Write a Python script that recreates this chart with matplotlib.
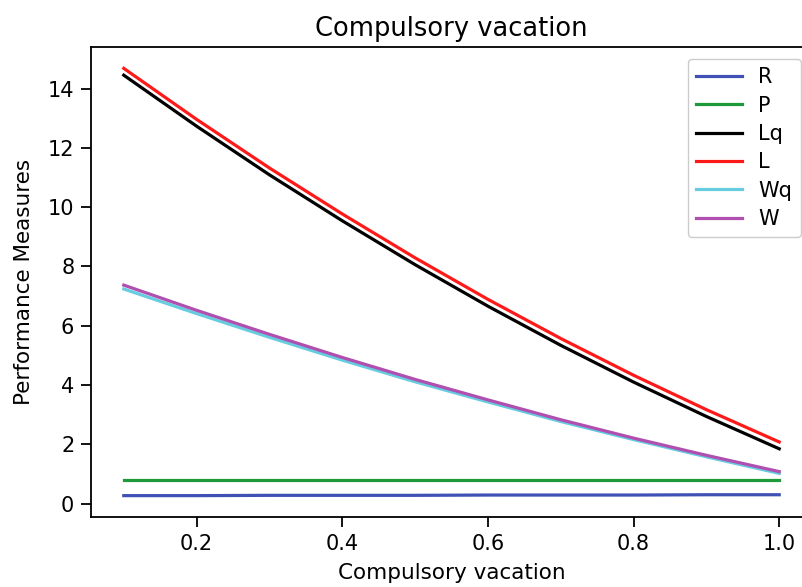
import matplotlib
matplotlib.use("Agg")
import matplotlib.pyplot as plt

x = [0.1, 0.2, 0.3, 0.4, 0.5, 0.6, 0.7, 0.8, 0.9, 1.0]
R = [0.27, 0.27, 0.28, 0.28, 0.28, 0.29, 0.29, 0.29, 0.30, 0.30]
P = [0.79, 0.79, 0.79, 0.79, 0.79, 0.79, 0.79, 0.79, 0.79, 0.79]
Lq = [14.45, 12.73, 11.09, 9.54, 8.06, 6.66, 5.34, 4.10, 2.94, 1.85]
L = [14.68, 12.96, 11.32, 9.77, 8.29, 6.89, 5.57, 4.33, 3.17, 2.08]
Wq = [7.24, 6.41, 5.61, 4.84, 4.11, 3.43, 2.77, 2.16, 1.58, 1.02]
W = [7.37, 6.52, 5.71, 4.93, 4.19, 3.50, 2.83, 2.21, 1.63, 1.08]

series = [("R", R, "#3f51b5"), ("P", P, "#1e9a3c"), ("Lq", Lq, "#000000"),
          ("L", L, "#ff1a1a"), ("Wq", Wq, "#66cce0"), ("W", W, "#b04fb0")]

W_PX, H_PX = 803, 587
fig = plt.figure(figsize=(W_PX / 100, H_PX / 100), dpi=100)
ax = fig.add_axes([91 / W_PX, 1 - 517 / H_PX, (812 - 91) / W_PX, (517 - 47) / H_PX])

for name, vals, col in series:
    ax.plot(x, vals, color=col, lw=2.3, label=name)

ax.set_title("Compulsory vacation", fontsize=18.5, pad=8)
ax.set_xlabel("Compulsory vacation", fontsize=15.5, labelpad=7)
ax.set_ylabel("Performance Measures", fontsize=15.5, labelpad=10)
ax.set_yticks([0, 2, 4, 6, 8, 10, 12, 14])
ax.set_xticks([0.2, 0.4, 0.6, 0.8, 1.0])
ax.tick_params(labelsize=15, length=7, width=1.3, pad=5)
for s in ax.spines.values():
    s.set_linewidth(1.3)
ax.spines["right"].set_visible(False)

leg = ax.legend(loc="upper right", bbox_to_anchor=(800.7 / W_PX, 1 - 59 / H_PX),
                bbox_transform=fig.transFigure, borderaxespad=0, fontsize=15,
                handlelength=2.2, labelspacing=0.4, framealpha=1)
leg.get_frame().set_linewidth(1.0)

fig.savefig("out.png", dpi=100)
